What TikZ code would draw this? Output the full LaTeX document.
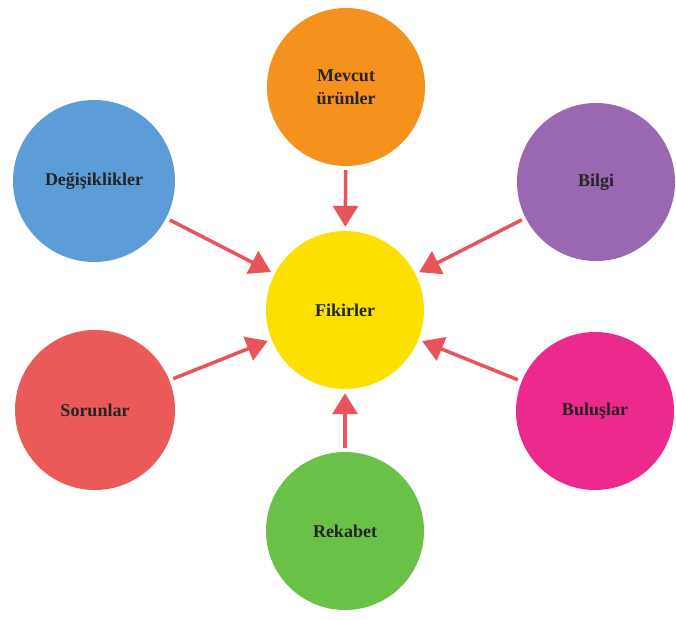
\documentclass[tikz,border=0pt]{standalone}
\usepackage{fontspec}
\setmainfont{Liberation Serif}
\usetikzlibrary{arrows.meta}

\definecolor{cyellow}{HTML}{FCE000}
\definecolor{corange}{HTML}{F5921E}
\definecolor{cblue}{HTML}{5C9DD8}
\definecolor{cpurple}{HTML}{9A68B2}
\definecolor{cred}{HTML}{EA5A58}
\definecolor{cpink}{HTML}{EC2A8D}
\definecolor{cgreen}{HTML}{6AC148}
\definecolor{carrow}{HTML}{E8545A}
\definecolor{ctext}{HTML}{242424}

\tikzset{
  bubble/.style={circle, fill=#1, draw=none, inner sep=0pt, minimum size=158pt,
    text=ctext, font=\fontsize{18}{23}\selectfont\bfseries, align=center},
  feed/.style={draw=carrow, line width=3.5pt,
    -{Triangle[width=25pt,length=21pt]}, shorten <=4pt, shorten >=4pt}
}

\begin{document}
\begin{tikzpicture}[x=1pt,y=1pt]
  \useasboundingbox (0,0) rectangle (676,619);

  % central idea and its six sources
  \node[bubble=cyellow] (fikir)  at (345,309) {Fikirler};
  \node[bubble=corange] (mevcut) at (346,532) {Mevcut\\ürünler};
  \node[bubble=cblue, minimum size=162pt] (degis) at (94,438) {Değişiklikler};
  \node[bubble=cpurple] (bilgi)  at (596,437) {Bilgi};
  \node[bubble=cred, minimum size=160pt] (sorun) at (95,209) {Sorunlar};
  \node[bubble=cpink]   (bulus)  at (595,208) {Buluşlar};
  \node[bubble=cgreen]  (rekab)  at (345,88)  {Rekabet};

  % arrows pointing into the centre
  \draw[feed] (mevcut) -- (fikir);
  \draw[feed] (degis)  -- (fikir);
  \draw[feed] (bilgi)  -- (fikir);
  \draw[feed] (sorun)  -- (fikir);
  \draw[feed] (bulus)  -- (fikir);
  \draw[feed] (rekab)  -- (fikir);
\end{tikzpicture}
\end{document}
